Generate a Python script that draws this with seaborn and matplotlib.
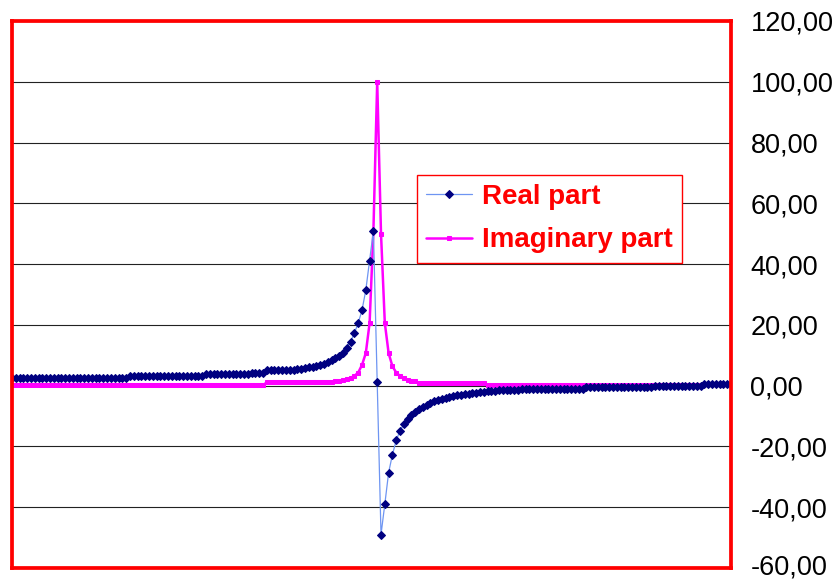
import numpy as np
import pandas as pd
import matplotlib
matplotlib.use("Agg")
import matplotlib.pyplot as plt
import matplotlib.transforms as mtransforms
import seaborn as sns

# Sampled response around the resonance: real and imaginary parts
real_part = [
    2.5, 2.5, 2.5, 2.5, 2.5, 2.5, 2.5, 2.5, 2.5, 2.5,
    2.5, 2.5, 2.5, 2.5, 2.5, 2.5, 2.5, 2.5, 2.5, 2.5,
    2.5, 2.5, 2.5, 2.5, 2.5, 2.5, 2.5, 2.5, 2.5, 2.5,
    2.5, 3.2, 3.2, 3.2, 3.2, 3.2, 3.2, 3.2, 3.2, 3.2,
    3.2, 3.2, 3.2, 3.2, 3.2, 3.2, 3.2, 3.2, 3.2, 3.2,
    3.2, 3.9, 3.9, 3.9, 3.9, 3.9, 3.9, 3.9, 3.9, 3.9,
    3.9, 3.9, 3.9, 4.3, 4.3, 4.3, 4.3, 5.0, 5.0, 5.0,
    5.0, 5.0, 5.0, 5.1, 5.2, 5.4, 5.6, 5.8, 6.0, 6.3,
    6.6, 6.9, 7.2, 7.7, 8.3, 9.0, 9.8, 10.9, 12.5, 14.5,
    17.3, 20.6, 24.8, 31.4, 41.1, 51.0, 1.1, -49.0, -39.0, -28.6,
    -22.7, -18.0, -14.8, -12.7, -11.0, -9.6, -8.6, -7.7, -7.0, -6.4,
    -5.8, -5.2, -4.7, -4.3, -3.9, -3.6, -3.4, -3.2, -3.0, -2.8,
    -2.6, -2.4, -2.3, -2.2, -2.1, -1.9, -1.8, -1.6, -1.4, -1.4,
    -1.4, -1.4, -1.4, -1.4, -1.0, -1.0, -1.0, -1.0, -1.0, -1.0,
    -1.0, -1.0, -1.0, -1.0, -1.0, -1.0, -1.0, -1.0, -1.0, -1.0,
    -1.0, -0.4, -0.4, -0.4, -0.4, -0.4, -0.4, -0.4, -0.4, -0.4,
    -0.4, -0.4, -0.4, -0.4, -0.4, -0.4, -0.4, -0.4, -0.4, 0.0,
    0.0, 0.0, 0.0, 0.0, 0.0, 0.0, 0.0, 0.0, 0.0, 0.0,
    0.0, 0.0, 0.6, 0.6, 0.6, 0.6, 0.6, 0.6, 0.6, 0.6,
]

imaginary_part = [
    0.2, 0.2, 0.2, 0.2, 0.2, 0.2, 0.2, 0.2, 0.2, 0.2,
    0.2, 0.2, 0.2, 0.2, 0.2, 0.2, 0.2, 0.2, 0.2, 0.2,
    0.2, 0.2, 0.2, 0.2, 0.2, 0.2, 0.2, 0.2, 0.2, 0.2,
    0.2, 0.2, 0.2, 0.2, 0.2, 0.2, 0.2, 0.2, 0.2, 0.2,
    0.2, 0.2, 0.2, 0.2, 0.2, 0.2, 0.2, 0.2, 0.2, 0.2,
    0.2, 0.2, 0.2, 0.2, 0.2, 0.2, 0.2, 0.2, 0.2, 0.2,
    0.2, 0.2, 0.2, 0.2, 0.2, 0.2, 0.2, 1.1, 1.1, 1.1,
    1.1, 1.1, 1.1, 1.1, 1.1, 1.1, 1.1, 1.1, 1.1, 1.1,
    1.1, 1.1, 1.1, 1.1, 1.1, 1.4, 1.6, 1.8, 2.2, 2.6,
    3.2, 4.3, 6.8, 10.7, 20.6, 50.8, 100.0, 50.0, 20.6, 10.7,
    6.4, 4.3, 3.2, 2.5, 2.0, 1.7, 1.4, 0.9, 0.9, 0.9,
    0.9, 0.9, 0.9, 0.9, 0.9, 0.9, 0.9, 0.9, 0.9, 0.9,
    0.9, 0.9, 0.9, 0.9, 0.9, 0.1, 0.1, 0.1, 0.1, 0.1,
    0.1, 0.1, 0.1, 0.1, 0.1, 0.1, 0.1, 0.1, 0.1, 0.1,
    0.1, 0.1, 0.1, 0.1, 0.1, 0.1, 0.1, 0.1, 0.1, 0.1,
    0.1, 0.1, 0.1, 0.1, 0.1, 0.1, 0.1, 0.1, 0.1, 0.1,
    0.1, 0.1, 0.1, 0.1, 0.1, 0.1, 0.1, 0.1, 0.1, 0.1,
    0.1, 0.1, 0.1, 0.1, 0.1, 0.1, 0.1, 0.1, 0.1, 0.1,
    0.1, 0.1, 0.4, 0.4, 0.4, 0.4, 0.4, 0.4, 0.4, 0.4,
]

series_names = ["Real part", "Imaginary part"]
y_ticks = [-60, -40, -20, 0, 20, 40, 60, 80, 100, 120]
y_tick_labels = ["-60,00", "-40,00", "-20,00", "0,00", "20,00",
                 "40,00", "60,00", "80,00", "100,00", "120,00"]

sns.set_theme(style="white")
plt.rcParams["font.family"] = ["Liberation Sans", "DejaVu Sans"]

W, H = 839, 582
fig = plt.figure(figsize=(W / 100, H / 100), dpi=100)
fig.patch.set_facecolor("white")
ax = fig.add_axes([12 / W, 14 / H, 719 / W, 547 / H])
ax.set_facecolor("white")

samples = np.arange(len(real_part))
df = pd.DataFrame({
    "sample": samples,
    series_names[0]: real_part,
    series_names[1]: imaginary_part,
})

sns.lineplot(data=df, x="sample", y=series_names[1], ax=ax,
             color="#FF00FF", linewidth=1.8, marker="s", markersize=3.0,
             markerfacecolor="#FF00FF", markeredgecolor="#FF00FF",
             label=series_names[1], zorder=3)
sns.lineplot(data=df, x="sample", y=series_names[0], ax=ax,
             color="#6E95F2", linewidth=0.9, marker="D", markersize=4.2,
             markerfacecolor="#000080", markeredgecolor="#000080",
             label=series_names[0], zorder=4)

ax.set_xlim(0, len(real_part) - 1)
ax.set_ylim(-60, 120)
ax.set_xticks([])
ax.set_xlabel("")
ax.set_ylabel("")

ax.yaxis.tick_right()
ax.set_yticks(y_ticks)
ax.set_yticklabels(y_tick_labels)
ax.tick_params(axis="y", length=0, pad=14, labelsize=19.5, labelcolor="black")

# keep the lowest label inside the canvas
bottom_label = ax.get_yticklabels()[0]
bottom_label.set_transform(bottom_label.get_transform() +
                           mtransforms.ScaledTranslation(0, 3 / 100, fig.dpi_scale_trans))

ax.grid(axis="y", color="#222222", linewidth=0.8)
ax.grid(axis="x", visible=False)
ax.set_axisbelow(True)

for side in ["left", "right", "top", "bottom"]:
    ax.spines[side].set_visible(True)
    ax.spines[side].set_color("#FF0000")
    ax.spines[side].set_linewidth(2.7)
    ax.spines[side].set_zorder(6)

handles, labels = ax.get_legend_handles_labels()
order = [labels.index(n) for n in series_names]
leg = ax.legend([handles[i] for i in order], [labels[i] for i in order],
                loc="upper left", bbox_to_anchor=(417 / W, 1 - 175 / H),
                bbox_transform=fig.transFigure, frameon=True, fancybox=False,
                edgecolor="#FF0000", facecolor="white", framealpha=1,
                prop={"weight": "bold", "size": 20},
                handlelength=1.65, handletextpad=0.36, borderpad=0.33,
                labelspacing=0.62, borderaxespad=0)
leg.get_frame().set_linewidth(1.0)
for t in leg.get_texts():
    t.set_color("#FF0000")

fig.savefig("out.png", dpi=100)
